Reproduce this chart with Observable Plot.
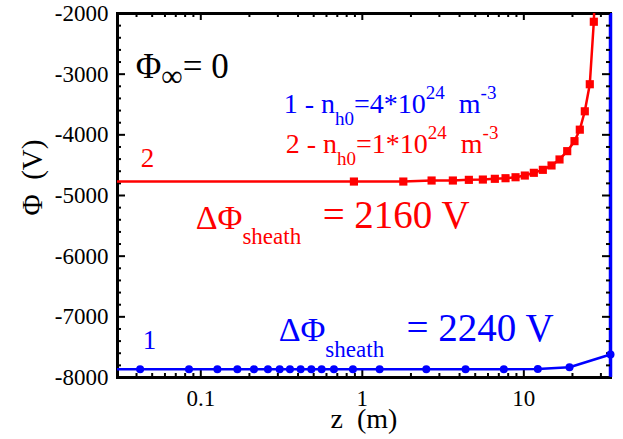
<!DOCTYPE html>
<html><head><meta charset="utf-8">
<script src="https://cdn.jsdelivr.net/npm/d3@7"></script>
<script src="https://cdn.jsdelivr.net/npm/@observablehq/plot@0.6"></script>
<style>
html,body{margin:0;padding:0;background:#fff;}
svg text{white-space:pre;font-family:'Liberation Serif','Times New Roman',serif;}
</style></head><body><div id="chart"></div>
<script>
// ---- data ----
const blueZ   = [0.0421, 0.0845, 0.1267, 0.1684, 0.2134, 0.2604, 0.3078, 0.3565, 0.4151, 0.4835, 0.5600, 0.6672, 0.8745, 1.280, 2.489, 4.357, 7.518, 12.21, 19.18, 34.4];
const bluePhi = [-7865, -7865, -7865, -7865, -7865, -7865, -7865, -7865, -7865, -7865, -7865, -7865, -7865, -7865, -7865, -7865, -7863, -7858, -7830, -7620];
const redZ    = [0.887, 1.794, 2.685, 3.636, 4.567, 5.576, 6.615, 7.704, 8.886, 10.14, 11.53, 13.11, 14.84, 16.63, 18.56, 20.59, 22.21, 23.85, 25.61, 27.12];
const redPhi  = [-4770, -4770, -4753, -4753, -4742, -4737, -4725, -4715, -4699, -4671, -4626, -4577, -4505, -4406, -4269, -4104, -3915, -3612, -3166, -2136];
const redBeyond = {z: 27.4, phi: -1800}; // curve leaves the frame at the top

const xDomain = [0.0305, 34.4];
const yDomain = [-8000, -2000];
const xMajor = [0.1, 1, 10];
const xMinor = [0.04, 0.05, 0.06, 0.07, 0.08, 0.09, 0.2, 0.3, 0.4, 0.5, 0.6, 0.7, 0.8, 0.9, 2, 3, 4, 5, 6, 7, 8, 9, 20, 30];
const yMajor = [-8000, -7000, -6000, -5000, -4000, -3000, -2000];
const yMinor = d3.range(-8000, -2000, 200).filter(v => v % 1000 !== 0);

const BLUE = "#0000ff", RED = "#ff0000";
const SERIF = "Liberation Serif, Times New Roman, serif";
const W = 623, H = 439;
const M = {left: 117, right: 13, top: 13, bottom: 62};
const FW = W - M.left - M.right, FH = H - M.top - M.bottom;

const blueLine = [{z: xDomain[0], phi: bluePhi[0]}, ...blueZ.map((z, i) => ({z, phi: bluePhi[i]}))];
const bluePts = blueZ.map((z, i) => ({z, phi: bluePhi[i]}));
const redPts = redZ.map((z, i) => ({z, phi: redPhi[i]}));
const redLine = [{z: xDomain[0], phi: redPhi[0]}, ...redPts, redBeyond];

// rich annotations (segments: text, size, baseline shift in px)
const rich = [
  {z: 0.03957, phi: -3067, size: 35, color: "black", segs: [{t: "Φ"}, {t: "∞", size: 30, shift: 8}, {t: "= 0"}]},
  {z: 0.3258, phi: -3645, size: 28, color: BLUE, segs: [{t: "1 - n"}, {t: "h0", size: 19, shift: 12}, {t: "=4*10"}, {t: "24", size: 19, shift: -14}, {t: "  m"}, {t: "-3", size: 19, shift: -14}]},
  {z: 0.3352, phi: -4307, size: 28, color: RED, segs: [{t: "2 - n"}, {t: "h0 ", size: 19, shift: 12}, {t: "=1*10"}, {t: "24 ", size: 19, shift: -14}, {t: "  m"}, {t: "-3 ", size: 19, shift: -14}]},
  {z: 0.0930, phi: -5547, size: 34, color: RED, segs: [{t: "ΔΦ"}, {t: "sheath", size: 23, shift: 15}]},
  {z: 0.3034, phi: -7399, size: 34, color: BLUE, segs: [{t: "ΔΦ"}, {t: "sheath ", size: 23, shift: 16}]}
];
const plain = [
  {z: 0.5679, phi: -5531, size: 39, color: RED, t: "= 2160 V"},
  {z: 1.880, phi: -7399, size: 39, color: BLUE, t: "= 2240 V"},
  {z: 0.04246, phi: -4538, size: 27, color: RED, t: "2"},
  {z: 0.04369, phi: -7532, size: 27, color: BLUE, t: "1"}
];
const joinSegs = r => r.segs.map(s => s.t).join("");

const chart = Plot.plot({
  width: W, height: H,
  marginLeft: M.left, marginRight: M.right, marginTop: M.top, marginBottom: M.bottom,
  style: {"font-family": SERIF, "background": "white", "color": "black"},
  x: {type: "log", domain: xDomain},
  y: {domain: yDomain},
  marks: [
    Plot.frame({stroke: "black", strokeWidth: 3}),
    Plot.ruleX([xDomain[1]], {stroke: BLUE, strokeWidth: 3.5}),
    // inward ticks
    Plot.tickX(xMajor, {x: d => d, insetTop: FH - 7, stroke: "black", strokeWidth: 2}),
    Plot.tickX(xMinor, {x: d => d, insetTop: FH - 4, stroke: "black", strokeWidth: 2}),
    Plot.tickX(xMajor, {x: d => d, insetBottom: FH - 7, stroke: "black", strokeWidth: 2}),
    Plot.tickX(xMinor, {x: d => d, insetBottom: FH - 4, stroke: "black", strokeWidth: 2}),
    Plot.tickY(yMajor, {y: d => d, insetRight: FW - 8, stroke: "black", strokeWidth: 2}),
    Plot.tickY(yMinor, {y: d => d, insetRight: FW - 4, stroke: "black", strokeWidth: 2}),
    Plot.tickY(yMajor, {y: d => d, insetLeft: FW - 8, stroke: "black", strokeWidth: 2}),
    Plot.tickY(yMinor, {y: d => d, insetLeft: FW - 4, stroke: "black", strokeWidth: 2}),
    Plot.axisY(yMajor, {tickSize: 0, tickPadding: 9, fontSize: 23, fontFamily: SERIF, tickFormat: d => String(d), label: null}),
    Plot.axisX(xMajor, {tickSize: 0, tickPadding: 12, fontSize: 23, fontFamily: SERIF, tickFormat: d => String(d), label: null}),
    Plot.text(["z  (m)"], {frameAnchor: "bottom", dy: 50, lineAnchor: "bottom", fontSize: 28, fontFamily: SERIF}),
    Plot.text(["Φ  (V)"], {frameAnchor: "left", rotate: -90, dx: -76, dy: 20, lineAnchor: "bottom", fontSize: 29, fontFamily: SERIF}),
    // data
    Plot.line(blueLine, {x: "z", y: "phi", stroke: BLUE, strokeWidth: 2.5, clip: true}),
    Plot.dot(bluePts, {x: "z", y: "phi", r: 4, fill: BLUE, stroke: "none"}),
    Plot.line(redLine, {x: "z", y: "phi", stroke: RED, strokeWidth: 2.5, clip: true}),
    Plot.dot(redPts, {x: "z", y: "phi", r: 4.6, symbol: "square", fill: RED, stroke: "none"}),
    // annotations
    Plot.text(rich, {x: "z", y: "phi", text: joinSegs, fill: "color", fontSize: "size", fontFamily: SERIF, textAnchor: "start", lineAnchor: "bottom"}),
    Plot.text(plain, {x: "z", y: "phi", text: "t", fill: "color", fontSize: "size", fontFamily: SERIF, textAnchor: "start", lineAnchor: "bottom"})
  ]
});

// turn plain joined strings into sub/superscript tspans
const richMap = new Map(rich.map(r => [joinSegs(r), r]));
d3.select(chart).selectAll("text").each(function() {
  const r = richMap.get(this.textContent);
  if (!r) return;
  const el = d3.select(this);
  el.text(null);
  let prev = 0;
  for (const s of r.segs) {
    const sh = s.shift || 0;
    const ts = el.append("tspan").attr("dy", sh - prev).text(s.t.trimEnd());
    if (s.size) ts.attr("font-size", s.size);
    prev = sh;
  }
});
document.getElementById("chart").appendChild(chart);
</script>
</body></html>
